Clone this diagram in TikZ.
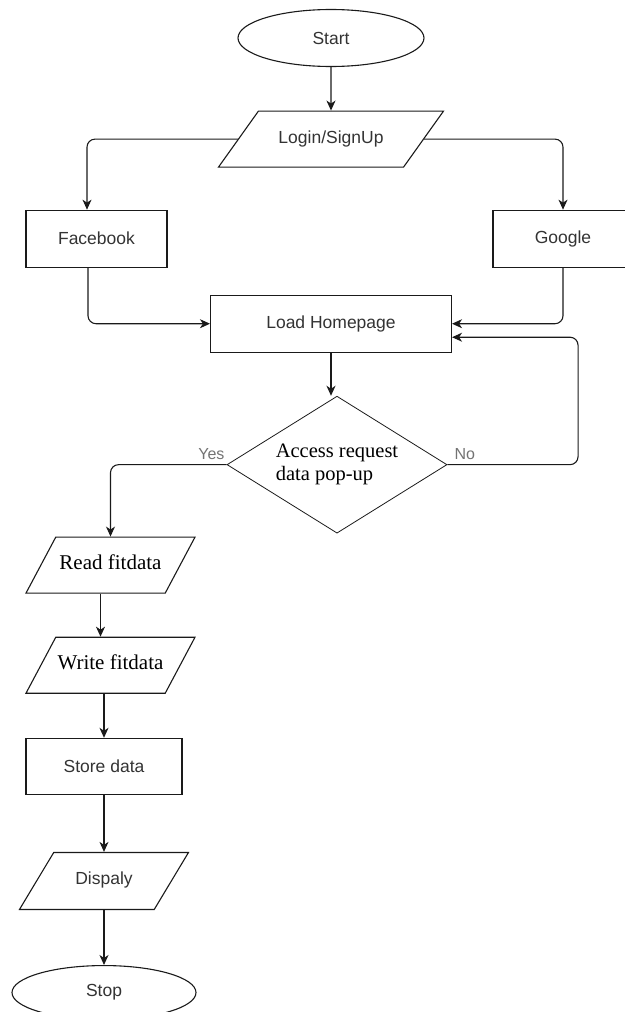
\documentclass[tikz,border=0pt]{standalone}
\usepackage{fontspec}
\setmainfont{Liberation Sans}
\newfontfamily\serifface{Liberation Serif}
\usetikzlibrary{shapes.geometric,arrows.meta,positioning}
\definecolor{inkgray}{HTML}{333333}
\definecolor{linegray}{HTML}{1A1A1A}

\begin{document}
\begin{tikzpicture}[
  x=1pt,y=1pt,
  term/.style={ellipse,draw=linegray,line width=1.1pt,minimum width=186pt,minimum height=57pt,inner sep=0pt,font=\fontsize{17.5}{19}\selectfont,text=inkgray},
  proc/.style={rectangle,draw=linegray,line width=1.1pt,minimum height=57pt,inner sep=0pt,font=\fontsize{17.5}{19}\selectfont,text=inkgray},
  io/.style={trapezium,trapezium left angle=62,trapezium right angle=118,trapezium stretches body=true,draw=linegray,line width=1.1pt,text height=12pt,text depth=4pt,inner ysep=20pt,inner xsep=0pt,minimum width=169pt,font=\fontsize{17.5}{19}\selectfont,text=inkgray},
  serifio/.style={io,font=\serifface\fontsize{21}{23}\selectfont,text=black},
  choice/.style={diamond,aspect=1.6,draw=linegray,line width=0.8pt,minimum width=220pt,minimum height=137pt,inner sep=0pt,align=left,font=\serifface\fontsize{20.5}{23}\selectfont},
  arr/.style={-{Stealth[length=10pt,width=9pt,inset=3pt]},line width=1.1pt,draw=linegray,rounded corners=8pt},
  lbl/.style={font=\fontsize{16}{18}\selectfont,text=gray!90!black,inner sep=2pt}
]
\useasboundingbox (0,0) rectangle (624,-1012);
\node[term] (start) at (331,-38) {Start};
\node[io,trapezium left angle=54.5,trapezium right angle=125.5,minimum width=225pt,below=43.5pt of start] (login) {Login/SignUp};
\node[proc,minimum width=141pt,below=42pt of login,xshift=-234.5pt] (fb) {Facebook};
\node[proc,minimum width=140pt,below=42pt of login,xshift=232pt] (google) {Google};
\node[proc,minimum width=241pt,below=127pt of login] (load) {Load Homepage};
\node[choice,below=43pt of load,xshift=6pt] (access) {Access request\\data pop-up};
\node[serifio,below=3pt of access,xshift=-226.5pt] (read) {Read fitdata};
\node[serifio,below=43pt of read] (write) {Write fitdata};
\node[proc,minimum width=156pt,minimum height=56pt,below=44pt of write,xshift=-6.5pt] (store) {Store data};
\node[io,trapezium left angle=59,trapezium right angle=121,inner ysep=20.5pt,below=57pt of store] (disp) {Dispaly};
\node[term,minimum width=184pt,minimum height=54pt,below=55pt of disp] (stop) {Stop};

\draw[arr] (start) -- (login);
\draw[arr] (login.west) -| ([xshift=-9.5pt]fb.north);
\draw[arr] (login.east) -| (google.north);
\draw[arr] ([xshift=-8.5pt]fb.south) |- (load.west);
\draw[arr] (google.south) |- (load.east);
\draw[arr] (load.south) -- (load.south |- access.north);
% No loops back to the homepage
\coordinate (noturn) at ([xshift=126pt,yshift=-13.5pt]load.east);
\draw[arr] (access.east) -| (noturn) -- ([yshift=-13.5pt]load.east);
\draw[arr] (access.west) -| (read.north);
\node[lbl,above left,yshift=3pt] at (access.west) {Yes};
\node[lbl,above right,xshift=5pt,yshift=3pt] at (access.east) {No};
\draw[arr] ([xshift=-10pt]read.south) -- ([xshift=-10pt]read.south |- write.north);
\draw[arr] (store.north |- write.south) -- (store.north);
\draw[arr] (store.south) -- (store.south |- disp.north);
\draw[arr] (disp.south) -- (stop.north);
\end{tikzpicture}
\end{document}
